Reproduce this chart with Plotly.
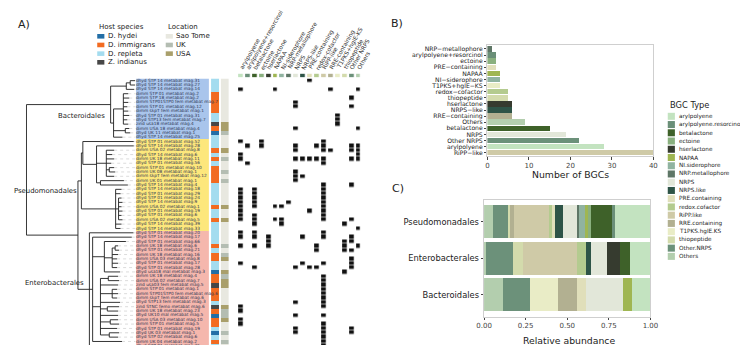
import plotly.graph_objects as go

W, H = 748, 345
def px(x): return x / W
def py(y): return 1 - y / H

FONT = "DejaVu Sans"

# ---------------- DATA ----------------
leaf_labels = [
    "dhyd STP 14 metabat mag.31", "dhyd STP 14 metabat mag.27", "dhyd STP 14 metabat mag.14",
    "dimm STP 01 metabat mag.2", "dimm STP 18 metabat mag.2", "dimm STP01STP0 fem metabat mag.7",
    "dimm STP 01 metabat mag.12", "dimm skpT fem metabat mag.1", "dhyd STP 01 metabat mag.31",
    "dhyd STP13 fem metabat mag.7", "zind usa18 metabat mag.4", "dimm USA 18 metabat mag.4",
    "dhyd UK 11 metabat mag.1", "dhyd STP 14 metabat mag.25",
    "dhyd STP 01 metabat mag.52", "dhyd STP 14 metabat mag.28", "dimm USA 02 metabat mag.8",
    "dhyd STP 14 metabat mag.6", "dimm UK 18 metabat mag.11", "dhyd STP 01 metabat mag.56",
    "dimm STP 01 metabat mag.10", "dimm UK 08 metabat mag.1", "dimm skpT fem metabat mag.12",
    "dimm UK 01 metabat mag.1", "dhyd STP 14 metabat mag.4", "dhyd STP 14 metabat mag.18",
    "dhyd STP 01 metabat mag.29", "dhyd STP 01 metabat mag.24", "dhyd STP 14 metabat mag.9",
    "dimm USA 02 metabat mag.1", "dhyd STP 01 metabat mag.19", "dhyd STP 01 metabat mag.6",
    "dimm USA 02 metabat mag.5", "dhyd STP 14 metabat mag.39", "dhyd STP 14 metabat mag.33",
    "dhyd STP 01 metabat mag.20", "dhyd STP 14 metabat mag.17", "dhyd STP 01 metabat mag.66",
    "dimm UK 18 metabat mag.6", "dhyd STP 01 metabat mag.21", "dimm UK 18 metabat mag.16",
    "dimm USA 03 metabat mag.8", "dhyd STP 01 metabat mag.17", "dhyd STP 01 metabat mag.28",
    "dhyd usa18 mal metabat mag.3", "dimm UK 18 metabat mag.4", "dimm USA 02 metabat mag.7",
    "zind usa03 fem metabat mag.5", "dimm STP 01 metabat mag.1", "dimm STP01STP0 fem metabat mag.6",
    "dimm skpT fem metabat mag.6", "dhyd STP13 fem metabat mag.3", "zind STNC femo metabat mag.6",
    "dimm UK 18 metabat mag.23", "dhyd UK10 mal metabat mag.5", "dimm USA 03 metabat mag.10",
    "dimm STP 01 metabat mag.5", "dhyd STP 01 metabat mag.19", "dhyd UK 03 metabat mag.1",
    "dhyd STP 02 metabat mag.6", "dimm UK 04 metabat mag.2", "dhyd STP 01 metabat mag.25",
]

clade_names = ["Bacteroidales", "Pseudomonadales", "Enterobacterales"]
clade_sizes = [14, 21, 27]
clade_colors = ["#a9c5ec", "#fde77c", "#f5b7ad"]

host_names = ["D. hydei", "D. immigrans", "D. repleta", "Z. indianus"]
host_keys = ["H", "I", "R", "Z"]
host_colors = ["#236ea6", "#f26b21", "#a4dcef", "#474747"]
host_codes = list("RRRIIIIIRRZIHR" "RRIRIRIIIIRRRRRIRRIRR" "RRRIRIIRRHIIZIIIRZIHIIRHRIR")

location_names = ["Sao Tome", "UK", "USA"]
location_keys = ["S", "K", "U"]
location_colors = ["#e8e8e0", "#b4bdb2", "#a99f6b"]
location_codes = list("SSSSSSSSSSUUKS" "SSUSKSSKSKSSSSSUSSUSS" "SSSKSKUSSUKUUSSSSUKKUSSKSKS")

# phylogeny (Newick, branch lengths)
tree_newick = (
    "((((L0:5,L1:5):4,L2:8):16,((L3:5,L4:6,L5:5,L6:4,L7:5,L8:6,L9:4,L10:5):10,(L11:4,L12:5):12,L13:9):3):86,"
    "(((L14:52,(L15:38,(L16:8,L17:6,L18:8,L19:5,(L20:5,L21:6):3,L22:8):10,(L23:24,L24:28):4):14):1.5,"
    "(L25:6,L26:5,(L27:3,L28:4,L29:3,L30:4,L31:3,L32:4):3,L33:6,L34:5):35):3.5,"
    "(L35:45,(L36:40,(L37:22,((L38:3,L39:4):3,L40:6,L41:5,L42:6,L43:5):8,L44:16):12,"
    "((L45:10,L46:11):8,L47:18,(L48:5,L49:6,L50:5):12,L51:20,(L52:12,L53:11):7,L54:18,"
    "(L55:8,L56:9):10,L57:17,(L58:10,L59:9):9):8,L60:30):3.3,L61:45):11.7):52.6);"
)

bgc_types = ["arylpolyene", "arylpolyene.resorcinol", "betalactone", "ectoine", "hserlactone",
             "NAPAA", "NI.siderophore", "NRP.metallophore", "NRPS", "NRPS.like", "PRE.containing",
             "redox.cofactor", "RiPP.like", "RRE.containing", "T1PKS.hglE.KS", "thiopeptide",
             "Other.NRPS", "Others"]
bgc_headers = ["arylpolyene", "arylpolyene+resorcinol", "betalactone", "ectoine", "hserlactone",
               "NAPAA", "NI-siderophore", "NRP-metallophore", "NRPS", "NRPS-like", "PRE-containing",
               "redox-cofactor", "RiPP-like", "RRE-containing", "T1PKS+hglE-KS", "thiopeptide",
               "Other NRPS", "Others"]
bgc_colors = ["#c3e3c0", "#6a8f78", "#3e6129", "#8ab07f", "#363b2f", "#9fb652", "#90b3a0",
              "#5e7666", "#e2e7d9", "#2e5447", "#e0dfba", "#b4cb8f", "#cfcaa7", "#b2b091",
              "#e9ecc6", "#d3dbac", "#6c917a", "#b3ceae"]

# rows (MAGs) carrying each BGC type
presence_rows = [
    [2, 14, 17, 18, 25, 26, 27, 28, 29, 30, 31, 32, 35, 36, 38, 42, 52, 53, 55, 56],
    [15, 19],
    [25, 26, 27, 28, 29, 31, 32, 33, 35, 36, 38, 43],
    [14, 15],
    [36, 37, 38],
    [2, 29, 32],
    [29, 32, 33],
    [28],
    [5, 6, 11, 15, 16, 18, 21, 22, 23, 43, 51, 54, 57, 58],
    [18, 22, 36, 42],
    [0, 18, 30, 43],
    [15, 18, 38, 39, 43],
    [14, 15, 16, 18, 19, 24, 25, 26, 27, 28, 29, 30, 31, 32, 35, 36, 42, 45, 46, 47, 48, 49,
     50, 51, 52, 54, 56, 57, 58, 59, 60, 61],
    [2, 16],
    [8, 9, 10],
    [33, 37, 38, 39, 44],
    [4, 6, 15, 16, 18, 24, 32, 36, 37, 39, 41, 42, 43, 57, 58],
    [2, 11, 15, 16, 17, 18, 34, 38],
]

# panel B
b_names = ["NRP\u2212metallophore", "arylpolyene+resorcinol", "ectoine", "PRE\u2212containing", "NAPAA",
           "NI\u2212siderophore", "T1PKS+hglE\u2212KS", "redox\u2212cofactor", "thiopeptide", "hserlactone",
           "NRPS\u2212like", "RRE\u2212containing", "Others", "betalactone", "NRPS", "Other NRPS",
           "arylpolyene", "RiPP\u2212like"]
b_types = ["NRP.metallophore", "arylpolyene.resorcinol", "ectoine", "PRE.containing", "NAPAA",
           "NI.siderophore", "T1PKS.hglE.KS", "redox.cofactor", "thiopeptide", "hserlactone",
           "NRPS.like", "RRE.containing", "Others", "betalactone", "NRPS", "Other.NRPS",
           "arylpolyene", "RiPP.like"]
b_counts = [1, 2, 2, 2, 3, 3, 3, 5, 5, 6, 6, 6, 9, 15, 19, 22, 28, 40]

# panel C (shares per order: Pseudomonadales, Enterobacterales, Bacteroidales)
c_orders = ["Pseudomonadales", "Enterobacterales", "Bacteroidales"]
c_shares = {
    "arylpolyene": [0.21, 0.122, 0.111],
    "arylpolyene.resorcinol": [0.02, 0, 0],
    "betalactone": [0.123, 0.061, 0],
    "ectoine": [0.02, 0, 0],
    "hserlactone": [0, 0.078, 0],
    "NAPAA": [0.02, 0, 0.056],
    "NI.siderophore": [0.033, 0, 0],
    "NRP.metallophore": [0.008, 0, 0],
    "NRPS": [0.092, 0.092, 0.222],
    "NRPS.like": [0.045, 0.033, 0],
    "PRE.containing": [0.02, 0, 0.056],
    "redox.cofactor": [0.018, 0.053, 0],
    "RiPP.like": [0.212, 0.325, 0],
    "RRE.containing": [0.02, 0, 0.111],
    "T1PKS.hglE.KS": [0, 0, 0.167],
    "thiopeptide": [0.014, 0.063, 0],
    "Other.NRPS": [0.088, 0.157, 0.167],
    "Others": [0.055, 0.014, 0.111],
}

# ---------------- helpers ----------------
def parse_newick(s):
    pos = 0
    def node():
        nonlocal pos
        n = {"children": [], "name": None, "bl": 0.0}
        if s[pos] == "(":
            pos += 1
            while True:
                n["children"].append(node())
                if s[pos] == ",":
                    pos += 1
                    continue
                if s[pos] == ")":
                    pos += 1
                    break
        start = pos
        while pos < len(s) and s[pos] not in ":,();":
            pos += 1
        n["name"] = s[start:pos] or None
        if pos < len(s) and s[pos] == ":":
            pos += 1
            start = pos
            while s[pos] not in ",();":
                pos += 1
            n["bl"] = float(s[start:pos])
        return n
    return node()

def place(n, x0):
    n["x"] = x0 + n["bl"]
    if n["children"]:
        for c in n["children"]:
            place(c, n["x"])
        n["y"] = (n["children"][0]["y"] + n["children"][-1]["y"]) / 2
    else:
        n["y"] = int(n["name"][1:])

root = parse_newick(tree_newick)
place(root, 0.0)

tx, ty, dx, dy = [], [], [], []
TIP_END = 112.0
def segs(n):
    if n["children"]:
        ys = [c["y"] for c in n["children"]]
        tx.extend([n["x"], n["x"], None]); ty.extend([ys[0], ys[-1], None])
        for c in n["children"]:
            tx.extend([n["x"], c["x"], None]); ty.extend([c["y"], c["y"], None])
            segs(c)
    else:
        dx.extend([n["x"], TIP_END, None]); dy.extend([n["y"], n["y"], None])
segs(root)

def discrete_scale(colors):
    k = len(colors) - 1
    return [[i / k, c] for i, c in enumerate(colors)]

n_rows = len(leaf_labels)
rows = list(range(n_rows))
clade_idx = []
for i, s in enumerate(clade_sizes):
    clade_idx += [i] * s

fig = go.Figure()

# tree
fig.add_trace(go.Scatter(x=dx, y=dy, mode="lines", xaxis="x", yaxis="y",
                         line=dict(color="#c4c4c4", width=0.6, dash="dot"), hoverinfo="skip"))
fig.add_trace(go.Scatter(x=tx, y=ty, mode="lines", xaxis="x", yaxis="y",
                         line=dict(color="#1e1e1e", width=0.9), hoverinfo="skip"))

# label backgrounds + labels
fig.add_trace(go.Heatmap(z=[[c] for c in clade_idx], x=[0.5], y=rows, xaxis="x5", yaxis="y",
                         colorscale=discrete_scale(clade_colors), zmin=0, zmax=2, showscale=False,
                         hoverinfo="skip"))
fig.add_trace(go.Scatter(x=[0] * n_rows, y=rows, text=leaf_labels, mode="text", xaxis="x5", yaxis="y",
                         textposition="middle right", cliponaxis=False,
                         textfont=dict(family=FONT, size=4.3, color="#2e3552"), hoverinfo="skip"))

# host / location columns
fig.add_trace(go.Heatmap(z=[[host_keys.index(h)] for h in host_codes], x=[0], y=rows, xaxis="x2", yaxis="y",
                         colorscale=discrete_scale(host_colors), zmin=0, zmax=3, showscale=False,
                         hoverinfo="skip"))
fig.add_trace(go.Heatmap(z=[[location_keys.index(l)] for l in location_codes], x=[0], y=rows, xaxis="x3",
                         yaxis="y", colorscale=discrete_scale(location_colors), zmin=0, zmax=2,
                         showscale=False, hoverinfo="skip"))

# presence heatmap
zp = [[None] * len(bgc_types) for _ in rows]
for c, rr in enumerate(presence_rows):
    for r in rr:
        zp[r][c] = 1
fig.add_trace(go.Heatmap(z=zp, x=list(range(len(bgc_types))), y=rows, xaxis="x4", yaxis="y",
                         colorscale=[[0, "#111111"], [1, "#111111"]], zmin=0, zmax=1, showscale=False,
                         xgap=2.3, ygap=0.6, hoverinfo="skip"))
# header colour squares
fig.add_trace(go.Heatmap(z=[list(range(len(bgc_types)))], x=list(range(len(bgc_types))), y=[0],
                         xaxis="x4", yaxis="y2", colorscale=discrete_scale(bgc_colors), zmin=0,
                         zmax=len(bgc_types) - 1, showscale=False, xgap=2.3, hoverinfo="skip"))

# panel B
fig.add_trace(go.Bar(x=b_counts, y=b_names, orientation="h", xaxis="x6", yaxis="y3", width=0.9,
                     marker=dict(color=[bgc_colors[bgc_types.index(t)] for t in b_types], line=dict(width=0)),
                     hoverinfo="skip"))

# panel C
for t in reversed(bgc_types):
    vals = c_shares[t]
    fig.add_trace(go.Bar(x=vals, y=c_orders, orientation="h", xaxis="x7", yaxis="y4", width=0.9,
                         marker=dict(color=bgc_colors[bgc_types.index(t)], line=dict(width=0)),
                         hoverinfo="skip"))

annotations = []
shapes = []

# header labels
for c, lab in enumerate(bgc_headers):
    annotations.append(dict(x=c - 0.5, y=py(64.0), xref="x4", yref="paper", text=lab, showarrow=False,
                            textangle=-60, xanchor="left", yanchor="bottom", borderpad=0,
                            font=dict(family=FONT, size=5.8, color="#333")))

# clade labels
for name, (xr, yc) in zip(clade_names, [(93, 108.3), (64.5, 183.3), (71.5, 275)]):
    annotations.append(dict(x=px(xr), y=py(yc), xref="paper", yref="paper", text=name, showarrow=False,
                            xanchor="right", yanchor="middle", font=dict(family=FONT, size=6.9, color="#222")))

# panel letters
for lab, (xc, yc) in zip(["A)", "B)", "C)"], [(8.5, 16), (389.5, 15.8), (390, 180.5)]):
    annotations.append(dict(x=px(xc), y=py(yc), xref="paper", yref="paper", text=lab, showarrow=False,
                            xanchor="center", yanchor="middle", font=dict(family=FONT, size=11, color="#222")))

# host / location legends
def legend_block(title, names, colors, x0, y_title, y_first, pitch, sw, shh, fsize, tsize, gap):
    annotations.append(dict(x=px(x0), y=py(y_title), xref="paper", yref="paper", text=title,
                            showarrow=False, xanchor="left", yanchor="middle",
                            font=dict(family=FONT, size=tsize, color="#222")))
    for k, (nm, col) in enumerate(zip(names, colors)):
        yc = y_first + pitch * k
        shapes.append(dict(type="rect", xref="paper", yref="paper", x0=px(x0), x1=px(x0 + sw),
                           y0=py(yc + shh / 2), y1=py(yc - shh / 2), fillcolor=col, line=dict(width=0)))
        annotations.append(dict(x=px(x0 + sw + gap), y=py(yc), xref="paper", yref="paper", text=nm,
                                showarrow=False, xanchor="left", yanchor="middle",
                                font=dict(family=FONT, size=fsize, color="#222")))

legend_block("Host species", host_names, host_colors, 83, 19.3, 28.3, 8.67, 7.3, 4.6, 7, 7, 1.5)
legend_block("Location", location_names, location_colors, 153, 19.3, 28.3, 8.67, 7.3, 4.6, 7, 7, 1.5)
legend_block("BGC Type", bgc_types, bgc_colors, 666, 96.7, 108.3, 8.24, 7.3, 7.0, 5.7, 8.3, 1.8)

# axis titles for B and C
annotations.append(dict(x=px(566.5), y=py(166.5), xref="paper", yref="paper", text="Number of BGCs",
                        showarrow=False, xanchor="center", yanchor="middle",
                        font=dict(family=FONT, size=9.3, color="#222")))
annotations.append(dict(x=px(565), y=py(332.5), xref="paper", yref="paper", text="Relative abundance",
                        showarrow=False, xanchor="center", yanchor="middle",
                        font=dict(family=FONT, size=9.3, color="#222")))

hidden = dict(visible=False, showgrid=False, zeroline=False, fixedrange=True)
row_dom = [py(340.0), py(70.5)]
frame = dict(showline=True, mirror=True, linecolor="#cfcfcf", linewidth=0.9, showgrid=False,
             zeroline=False, ticks="outside", ticklen=2.5, tickwidth=0.7, tickcolor="#444")

fig.update_layout(
    width=W, height=H, margin=dict(l=0, r=0, t=0, b=0),
    paper_bgcolor="white", plot_bgcolor="white", showlegend=False,
    barmode="stack", bargap=0.1,
    font=dict(family=FONT, color="#333"),
    xaxis=dict(domain=[px(10), px(122)], range=[-0.7, 111.3], anchor="y", **hidden),
    yaxis=dict(domain=row_dom, range=[n_rows - 0.5, -0.5], anchor="x", **hidden),
    xaxis2=dict(domain=[px(199.3), px(207.8)], range=[-0.5, 0.5], anchor="y", **hidden),
    xaxis3=dict(domain=[px(209.2), px(217.5)], range=[-0.5, 0.5], anchor="y", **hidden),
    xaxis4=dict(domain=[px(225.9), px(353.1)], range=[-0.5, 17.5], anchor="y", **hidden),
    xaxis5=dict(domain=[px(122.5), px(197.3)], range=[0, 1], anchor="y", **hidden),
    yaxis2=dict(domain=[py(69.2), py(65.6)], range=[-0.5, 0.5], anchor="x4", **hidden),
    xaxis6=dict(domain=[px(481.7), px(651.3)], range=[0, 40], anchor="y3", tickvals=[0, 10, 20, 30, 40],
                tickfont=dict(family=FONT, size=7, color="#444"), **frame),
    yaxis3=dict(domain=[py(148.4), py(37.3)], range=[17.6, -0.6], anchor="x6", type="category",
                categoryorder="array", categoryarray=b_names, tickmode="array", tickvals=b_names,
                ticktext=b_names, tickfont=dict(family=FONT, size=6.1, color="#222"), **frame),
    xaxis7=dict(domain=[px(478.3), px(648.3)], range=[0, 1], anchor="y4",
                tickvals=[0, 0.25, 0.5, 0.75, 1.0], ticktext=["0.00", "0.25", "0.50", "0.75", "1.00"],
                tickfont=dict(family=FONT, size=7, color="#444"), **frame),
    yaxis4=dict(domain=[py(308.6), py(191.7)], range=[2.6, -0.6], anchor="x7", type="category",
                categoryorder="array", categoryarray=c_orders,
                tickfont=dict(family=FONT, size=8.3, color="#222"), **frame),
    annotations=annotations, shapes=shapes,
)

fig.write_html("out.html")
